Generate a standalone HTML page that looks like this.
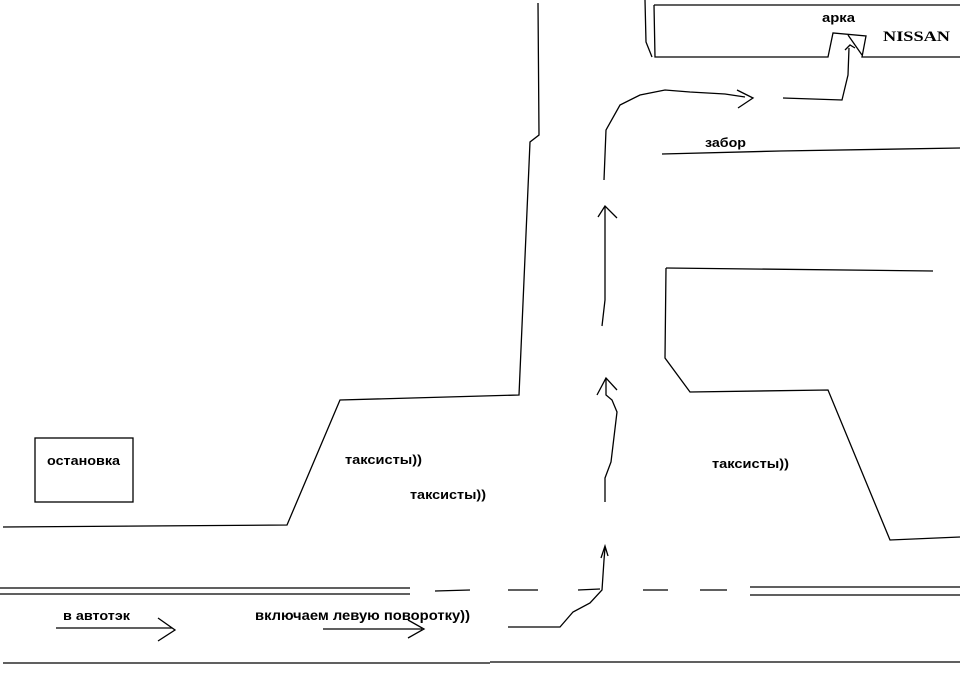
<!DOCTYPE html>
<html><head><meta charset="utf-8"><style>
html,body{margin:0;padding:0;background:#fff;}
svg{display:block}
text{font-family:"Liberation Sans",sans-serif;font-size:13px;font-weight:bold;fill:#000}
</style></head><body>
<svg width="960" height="683" viewBox="0 0 960 683" xmlns="http://www.w3.org/2000/svg">
<g fill="none" stroke="#000" stroke-width="1.3">
<polyline points="538,3 539,135 530,142 519,395 340,400 287,525 3,527"/>
<rect x="35" y="438" width="98" height="64"/>
<line x1="0" y1="588" x2="410" y2="588"/>
<line x1="0" y1="594" x2="410" y2="594"/>
<line x1="750" y1="587" x2="960" y2="587"/>
<line x1="750" y1="595" x2="960" y2="595"/>
<line x1="435" y1="591" x2="470" y2="590"/>
<line x1="508" y1="590" x2="538" y2="590"/>
<line x1="578" y1="590" x2="600" y2="589"/>
<line x1="643" y1="590" x2="668" y2="590"/>
<line x1="700" y1="590" x2="727" y2="590"/>
<line x1="3" y1="663" x2="490" y2="663"/>
<line x1="490" y1="662" x2="960" y2="662"/>
<line x1="56" y1="628" x2="172" y2="628"/>
<polyline points="158,618 175,630 158,641"/>
<line x1="323" y1="629" x2="422" y2="629"/>
<polyline points="408,620 424,629 408,638"/>
<polyline points="508,627 560,627 573,612 590,603 602,590 604,560 605,548"/>
<polyline points="601,558 605,546 608,556"/>
<polyline points="605,502 605,478 611,462 617,412 612,400 606,395 606,378"/>
<polyline points="597,395 606,378 617,390"/>
<polyline points="602,326 605,300 605,207"/>
<polyline points="598,217 605,206 617,218"/>
<polyline points="604,180 606,130 620,105 640,95 665,90 690,92 725,94 745,97"/>
<polyline points="737,90 753,98 738,108"/>
<polyline points="783,98 842,100 848,75 849,48"/>
<polyline points="845,50 850,45 855,48"/>
<polyline points="645,0 646,42 652,57"/>
<polyline points="654,5 960,5"/>
<polyline points="654,5 655,57 828,57 833,33 866,36 862,57 960,57"/>
<line x1="848" y1="35" x2="862" y2="55"/>
<polyline points="662,154 780,151 960,148"/>
<line x1="666" y1="268" x2="933" y2="271"/>
<polyline points="666,268 665,358 690,392 828,390 890,540 960,537"/>
</g>
<g>
<text x="47" y="465" textLength="73" lengthAdjust="spacingAndGlyphs">остановка</text>
<text x="345" y="464" textLength="77" lengthAdjust="spacingAndGlyphs">таксисты))</text>
<text x="410" y="499" textLength="76" lengthAdjust="spacingAndGlyphs">таксисты))</text>
<text x="712" y="468" textLength="77" lengthAdjust="spacingAndGlyphs">таксисты))</text>
<text x="822" y="22" textLength="33" lengthAdjust="spacingAndGlyphs">арка</text>
<text x="883" y="41" textLength="67" lengthAdjust="spacingAndGlyphs" style="font-family:'Liberation Serif',serif;font-size:15px;font-weight:900">NISSAN</text>
<text x="705" y="147" textLength="41" lengthAdjust="spacingAndGlyphs">забор</text>
<text x="63" y="620" textLength="67" lengthAdjust="spacingAndGlyphs">в автотэк</text>
<text x="255" y="620" textLength="215" lengthAdjust="spacingAndGlyphs" style="font-size:14px">включаем левую поворотку))</text>
</g>
</svg>
</body></html>
